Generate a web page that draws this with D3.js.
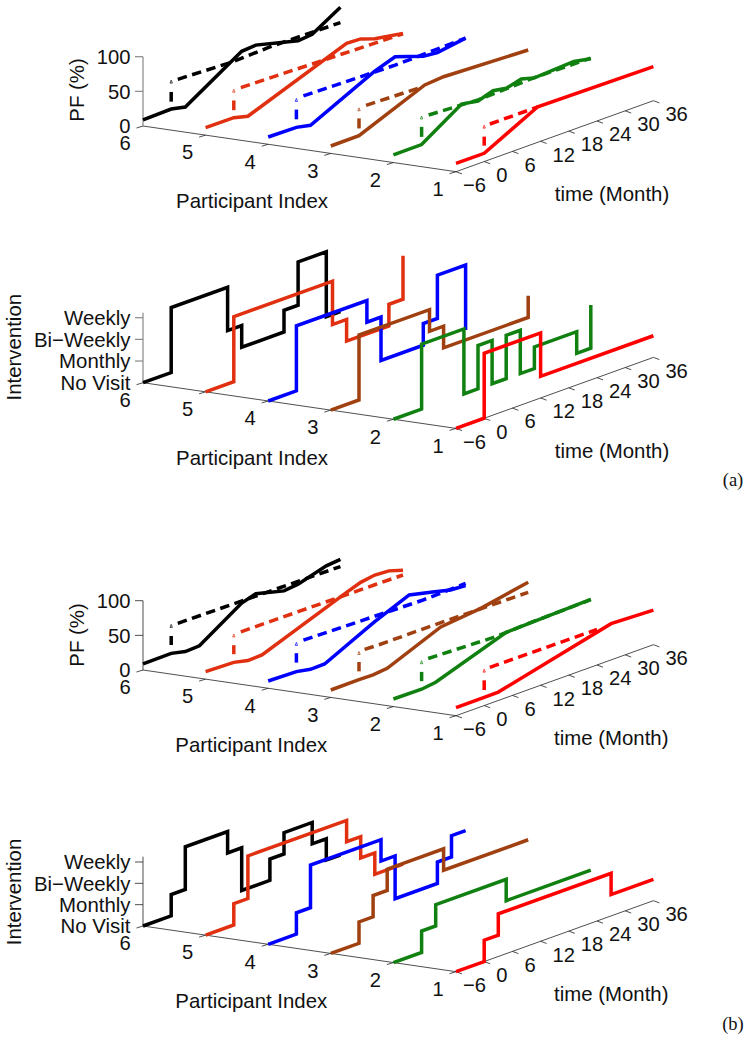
<!DOCTYPE html>
<html><head><meta charset="utf-8">
<script src="https://cdn.jsdelivr.net/npm/d3@7"></script>
<style>html,body{margin:0;padding:0;background:#fff}svg{display:block}text{font-family:"Liberation Sans",Arial,sans-serif;fill:#111}</style>
</head><body><svg id="c" width="751" height="1041"></svg>
<script>
const participants=[6,5,4,3,2,1];
const colors=["#000000","#e03010","#0000ff","#a04010","#108010","#ff0000"];
const timeTicks=[-6,0,6,12,18,24,30,36];
const pfTicks=[0,50,100];
const visitTicks=[0,1,2,3];
const visitLabels=["No Visit","Monthly","Bi\u2212Weekly","Weekly"];

// Panel (a) PF: measured
const aPfSolid=[
 [[-6,8.7],[0,9.9],[3,5.4],[15,56.6],[18,58.2],[27,42.4],[30,44.4],[36,68.8]],
 [[-6,10.8],[0,10.6],[3,5.3],[24,59.3],[27,58.3],[30,51.4],[36,44.4]],
 [[-6,10.5],[0,9.8],[3,5.4],[16.6,50],[21,60.3],[27,46.7],[30,44.4],[36,50.8]],
 [[-6,10.7],[0,11.1],[14,50],[18,52.1],[36,46.8]],
 [[-6,11],[0,11.4],[8.5,49],[12,44.9],[15.2,51.9],[18,48.6],[21.2,54.3],[24,49],[32.4,52.2],[36,47.3]],
 [[-6,12],[0,11.9],[11.4,51.3],[36,49.3]]];
// Panel (a) PF: predicted (dashed)
const aPfDash=[
 [[1.4,49.3],[13,46],[21,48.3],[36,46.8]],
 [[1.5,50.2],[18,47.2],[36,43.8]],
 [[1.5,51.6],[21,48.3],[36,50.6]],
 [[1.5,51],[13.5,48.6]],
 [[1.5,50.3],[8,48],[12,46.5],[24,49.5],[36,48.2]],
 [[1.2,51.3],[11.4,51]]];
const aPfRise=[[20.5,34.5],[21.4,35.4],[21.4,35.4],[21.4,35.9],[22.4,36.9],[23,36]];
const aPfMark=[49.4,49.4,49.4,49,50.4,50.4];

// Panel (b) PF: measured
const bPfSolid=[
 [[-6,8.7],[0,9.4],[3,4.7],[6,5.6],[15,45.3],[18,51.6],[24,41],[27,43.3],[33,55.1],[36,57.3]],
 [[-6,10.8],[0,9.6],[3,4.8],[6,5.7],[24,52],[27,59.2],[30,62.4],[33,61.1],[36,54.8]],
 [[-6,10.5],[0,9.4],[3,5.4],[6,5.8],[16.6,40.7],[24,61.5],[29,53.5],[32.8,47.1],[36,45.8]],
 [[-6,10.7],[0,10.9],[3,10.5],[6,12.8],[17.4,44.7],[26,50.8],[36,63.8]],
 [[-6,10.9],[0,10.4],[3,13.1],[18,48.6],[36,52.3]],
 [[-6,11.5],[0,11.9],[3,12.1],[27,52.3],[36,49.8]]];
// Panel (b) PF: predicted (dashed)
const bPfDash=[
 [[1.4,49.3],[36,46.8]],
 [[1.5,50],[30,48.4],[36,47.8]],
 [[1.5,51.2],[16.6,48.7],[26.5,47],[36,48.8]],
 [[1.2,51.7],[4.4,51],[18,50.8],[36,49.2]],
 [[1.4,51.3],[15.6,47.8],[23.3,50],[36,51.8]],
 [[1.2,52.3],[24,51.2]]];
const bPfRise=[[21.4,34.4],[21.4,34.4],[22.4,36],[23,36.5],[22,35.4],[22.4,36.4]];
const bPfMark=[49,48.4,49.4,49.5,49.4,50.4];

// Intervention steps: [month, level]
const aVisit=[
 [[-6,0],[0,0],[0,3],[12,3],[12,1],[15,1],[15,0],[24,0],[24,1],[27,1],[27,3],[33,3],[33,0],[36,0]],
 [[-6,0],[0,0],[0,3],[21,3],[21,1],[24,1],[24,0],[33,0],[33,1],[36,1],[36,3]],
 [[-6,0],[0,0],[0,3],[15,3],[15,2],[18,2],[18,0],[27,0],[27,1],[30,1],[30,3],[36,3],[36,0]],
 [[-6,0],[0,0],[0,3],[15,3],[15,2],[18,2],[18,1],[36,1],[36,2]],
 [[-6,0],[0,0],[0,3],[9,3],[9,0],[12,0],[12,2],[15,2],[15,0],[18,0],[18,2],[21,2],[21,0],[24,0],[24,1],[33,1],[33,0],[36,0],[36,2]],
 [[-6,0],[0,0],[0,3],[12,3],[12,1],[36,1]]];
const bVisit=[
 [[-6,0],[0,0],[0,1],[3,1],[3,3],[12,3],[12,2],[15,2],[15,0],[21,0],[21,1],[24,1],[24,2],[30,2],[30,1],[33,1],[33,0],[36,0]],
 [[-6,0],[0,0],[0,1],[3,1],[3,3],[24,3],[24,2],[27,2],[27,1],[30,1],[30,0],[36,0]],
 [[-6,0],[0,0],[0,1],[3,1],[3,3],[18,3],[18,2],[21,2],[21,0],[30,0],[30,1],[33,1],[33,2],[36,2]],
 [[-6,0],[0,0],[0,1],[3,1],[3,2],[6,2],[6,3],[18,3],[18,2],[36,2]],
 [[-6,0],[0,0],[0,1],[3,1],[3,2],[18,2],[18,1],[36,1]],
 [[-6,0],[0,0],[0,1],[3,1],[3,2],[27,2],[27,1],[36,1]]];

const svg=d3.select("#c");
const FS=20.4, NS=20.2, LW=3.5;

function panel(o){
  const g=svg.append("g");
  const tx=d3.scaleLinear().domain([-6,36]).range([0,197.4]);
  const ty=d3.scaleLinear().domain([-6,36]).range([0,-71]);
  const px=d3.scaleLinear().domain([6,1]).range([o.x0,o.x0+313]);
  const py=d3.scaleLinear().domain([6,1]).range([o.y0,o.y0+45.7]);
  const vy=d3.scaleLinear().domain(o.vDomain).range([0,-o.vRange]);
  const P=(p,t,v)=>[px(p)+tx(t),py(p)+ty(t)+vy(v)];
  const line=d3.line();
  const axis=(a,b,w,c)=>g.append("line").attr("x1",a[0]).attr("y1",a[1]).attr("x2",b[0]).attr("y2",b[1]).attr("stroke",c||"#222").attr("stroke-width",w||0.8);
  const label=(s,x,y,anchor,fs)=>g.append("text").attr("x",x).attr("y",y).attr("dy","0.36em").attr("text-anchor",anchor||"middle").attr("font-size",fs||NS).text(s);

  // axes
  const c0=P(6,-6,o.vDomain[0]), c1=P(1,-6,o.vDomain[0]), c2=P(1,36,o.vDomain[0]);
  axis(c0,c1); axis(c1,c2);
  axis(c0,[c0[0],vy(o.axisTop)+o.y0],o.zWidth,o.zColor);
  o.zTicks.forEach((v,i)=>{
    const y=o.y0+vy(v);
    if(v!==o.vDomain[0]) axis([c0[0],y],[c0[0]-8,y],o.zWidth,o.zColor);
    label(o.zLabels[i],c0[0]-12.5,y,"end",o.zFs);
  });
  participants.forEach(p=>{
    const a=[px(p),py(p)];
    axis(a,[a[0]-6.5,a[1]+2]);
    label(String(p),a[0]-18,a[1]+17);
  });
  timeTicks.forEach(t=>{
    const a=[px(1)+tx(t),py(1)+ty(t)];
    axis(a,[a[0]+6,a[1]+2.2]);
    label(t<0?"\u2212"+(-t):String(t),a[0]+(t<0?7:12),a[1]+13,"start");
  });
  label("Participant Index",252+o.shift,o.y0+75,"middle",FS);
  label("time (Month)",612+o.shift,o.y0+68,"middle",FS);
  g.append("text").attr("transform",`translate(${o.zLabelX},${o.y0-o.zLabelUp}) rotate(-90)`)
    .attr("dy","0.36em").attr("text-anchor","middle").attr("font-size",FS).text(o.zTitle);

  // series
  participants.forEach((p,i)=>{
    const col=colors[i];
    const lg=g.append("g").attr("fill","none").attr("stroke",col);
    if(o.dash){
      lg.append("path").attr("d",line(o.dash[i].map(d=>P(p,d[0],d[1]))))
        .attr("stroke-width",LW).attr("stroke-dasharray","9.5 5.5");
      lg.append("path").attr("d",line(o.rise[i].map(v=>P(p,0,v)))).attr("stroke-width",LW);
      const m=P(p,0,o.mark[i]);
      lg.append("path").attr("d",`M${m[0]-1.2},${m[1]+1.5}L${m[0]},${m[1]-1.5}L${m[0]+1.2},${m[1]+1.5}Z`).attr("stroke-width",0.7);
    }
    lg.append("path").attr("d",line(o.solid[i].map(d=>P(p,d[0],d[1]))))
      .attr("stroke-width",LW).attr("stroke-linejoin","miter");
  });
}

panel({x0:143,y0:126,vDomain:[0,100],vRange:69.3,axisTop:100,zTicks:pfTicks,zLabels:pfTicks.map(String),zFs:NS,
  zColor:"#888",zWidth:1.2,zTitle:"PF (%)",zLabelX:77,zLabelUp:36,solid:aPfSolid,dash:aPfDash,rise:aPfRise,mark:aPfMark,shift:0});
panel({x0:143,y0:382.7,vDomain:[0,3],vRange:65,axisTop:3.23,zTicks:visitTicks,zLabels:visitLabels,zFs:FS,
  zColor:"#888",zWidth:1.2,zTitle:"Intervention",zLabelX:14,zLabelUp:35.5,solid:aVisit,shift:0});
panel({x0:143,y0:670,vDomain:[0,100],vRange:69.3,axisTop:100,zTicks:pfTicks,zLabels:pfTicks.map(String),zFs:NS,
  zColor:"#222",zWidth:0.8,zTitle:"PF (%)",zLabelX:77,zLabelUp:35,solid:bPfSolid,dash:bPfDash,rise:bPfRise,mark:bPfMark,shift:-0.7});
panel({x0:143,y0:926,vDomain:[0,3],vRange:64,axisTop:3.25,zTicks:visitTicks,zLabels:visitLabels,zFs:FS,
  zColor:"#222",zWidth:0.8,zTitle:"Intervention",zLabelX:13.5,zLabelUp:34,solid:bVisit,shift:-0.7});

[["(a)",480],["(b)",1024]].forEach(d=>svg.append("text").attr("x",733).attr("y",d[1]).attr("dy","0.34em")
  .attr("text-anchor","middle").attr("font-size",18.5).style("font-family","'Liberation Serif',serif").text(d[0]));
</script></body></html>
